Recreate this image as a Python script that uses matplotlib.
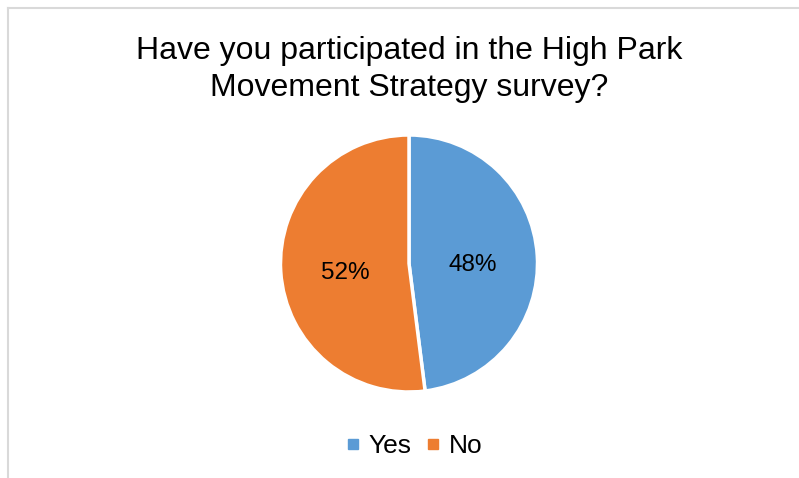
import matplotlib
matplotlib.use("Agg")
import matplotlib.pyplot as plt
from matplotlib.lines import Line2D

labels = ["Yes", "No"]
values = [48, 52]
colors = ["#5B9BD5", "#ED7D31"]
title = "Have you participated in the High Park\nMovement Strategy survey?"

plt.rcParams['font.family'] = ['Liberation Sans', 'DejaVu Sans']

W, H = 799, 478
fig = plt.figure(figsize=(W/100, H/100), dpi=100)
fig.patch.set_facecolor("white")

# chart border (only top and left visible)
fig.add_artist(Line2D([7.5/W, 7.5/W], [0, 1 - 8/H], transform=fig.transFigure, color="#D9D9D9", lw=1.5))
fig.add_artist(Line2D([7.5/W, 1], [1 - 8/H, 1 - 8/H], transform=fig.transFigure, color="#D9D9D9", lw=1.5))

cx, cy, r = 409, 263.5, 128.5
ax = fig.add_axes([(cx - r)/W, (H - cy - r)/H, 2*r/W, 2*r/H])
wedges, texts, autotexts = ax.pie(values, colors=colors, startangle=90, counterclock=False,
       autopct=lambda p: f"{p:.0f}%", pctdistance=0.5,
       wedgeprops=dict(edgecolor="white", linewidth=2.5),
       textprops=dict(fontsize=17.5, color="black"))
for t in autotexts:
    x, y = t.get_position()
    t.set_position((x, y - 0.04))
ax.set_aspect("equal")
ax.set_xlim(-1, 1)
ax.set_ylim(-1, 1)
ax.axis("off")

fig.text(409/W, 1 - 69.5/H, title, ha="center", va="center", fontsize=23, color="black", linespacing=1.32)

handles = [Line2D([], [], marker="s", linestyle="", color=c, markersize=6.5) for c in colors]
fig.legend(handles, labels, loc="center", bbox_to_anchor=(411/W, 1 - 446/H), ncol=2,
           frameon=False, fontsize=19, handletextpad=0.1, columnspacing=0.3, handlelength=1.0)

fig.savefig("out.png", dpi=100)
